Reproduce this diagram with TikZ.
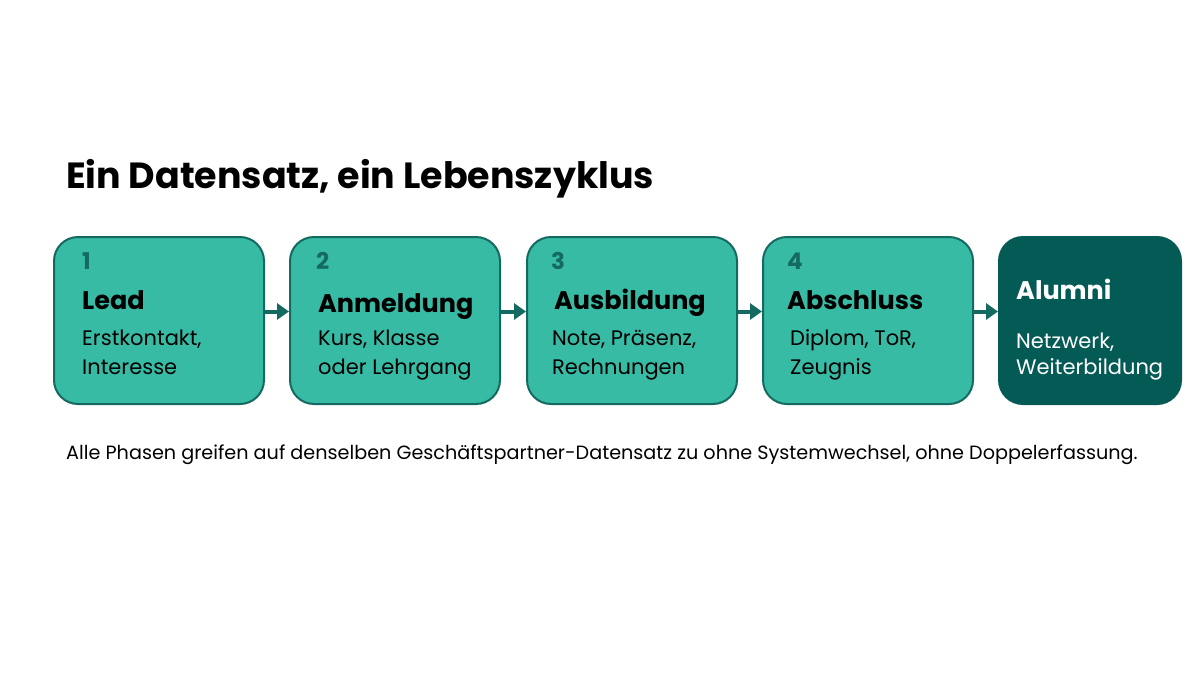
\documentclass[tikz,border=0pt]{standalone}
\usepackage{fontspec}
\setmainfont{Poppins}
\usepackage{tikz}
\usetikzlibrary{arrows.meta}
\definecolor{phasefill}{HTML}{38BBA5}
\definecolor{phaseline}{HTML}{146A60}
\definecolor{phasedark}{HTML}{045B56}

\begin{document}
\begin{tikzpicture}[x=1pt,y=-1pt,
    phase/.style={draw=phaseline, line width=2pt, fill=phasefill, rounded corners=24pt, minimum width=210pt, minimum height=167pt, anchor=north west, inner sep=0pt},
    phaselast/.style={phase, draw=phasedark, fill=phasedark, minimum width=182pt},
    num/.style={anchor=base west, inner sep=0pt, text=phaseline, font=\fontsize{23}{27}\selectfont\bfseries},
    head/.style={anchor=base west, inner sep=0pt, font=\fontsize{25.5}{30}\selectfont\bfseries},
    desc/.style={anchor=base west, inner sep=0pt, font=\fontsize{21}{25}\selectfont},
    flow/.style={draw=phaseline, line width=4pt, -{Triangle[length=12pt,width=16pt]}}]
        \useasboundingbox[fill=white] (0,0) rectangle (1200,675);
        \node[anchor=base west, inner sep=0pt, font=\fontsize{36.4}{42}\selectfont\bfseries] (title) at (66,188) {Ein Datensatz, ein Lebenszyklus};
        \node[phase] (lead) at (53,236) {};
        \node[phase] (anm) at (289,236) {};
        \node[phase] (ausb) at (526,236) {};
        \node[phase] (absch) at (762,236) {};
        \node[phaselast] (alumni) at (998,236) {};
        \draw[flow] ([yshift=9pt]lead.east) -- ([yshift=9pt]anm.west);
        \draw[flow] ([yshift=9pt]anm.east) -- ([yshift=9pt]ausb.west);
        \draw[flow] ([yshift=9pt]ausb.east) -- ([yshift=9pt]absch.west);
        \draw[flow] ([yshift=9pt]absch.east) -- ([yshift=9pt]alumni.west);
        \node[num] (n1) at (82,269) {1};
        \node[head] (h1) at (82,309) {Lead};
        \node[desc] (d1a) at (82,345) {Erstkontakt,};
        \node[desc] (d1b) at (82,374) {Interesse};
        \node[num] (n2) at (316,269) {2};
        \node[head] (h2) at (318,312) {Anmeldung};
        \node[desc] (d2a) at (318,345) {Kurs, Klasse};
        \node[desc] (d2b) at (318,374) {oder Lehrgang};
        \node[num] (n3) at (551,269) {3};
        \node[head] (h3) at (554,309) {Ausbildung};
        \node[desc] (d3a) at (552,345) {Note, Präsenz,};
        \node[desc] (d3b) at (552,374) {Rechnungen};
        \node[num] (n4) at (787,269) {4};
        \node[head] (h4) at (787,309) {Abschluss};
        \node[desc] (d4a) at (790,345) {Diplom, ToR,};
        \node[desc] (d4b) at (790,374) {Zeugnis};
        \node[head, text=white] (h5) at (1016,299) {Alumni};
        \node[desc, text=white] (d5a) at (1016,348) {Netzwerk,};
        \node[desc, text=white] (d5b) at (1016,374) {Weiterbildung};
        \node[anchor=base west, inner sep=0pt, font=\fontsize{19.2}{23}\selectfont] (note) at (66,459) {Alle Phasen greifen auf denselben Geschäftspartner-Datensatz zu ohne Systemwechsel, ohne Doppelerfassung.};
\end{tikzpicture}
\end{document}
